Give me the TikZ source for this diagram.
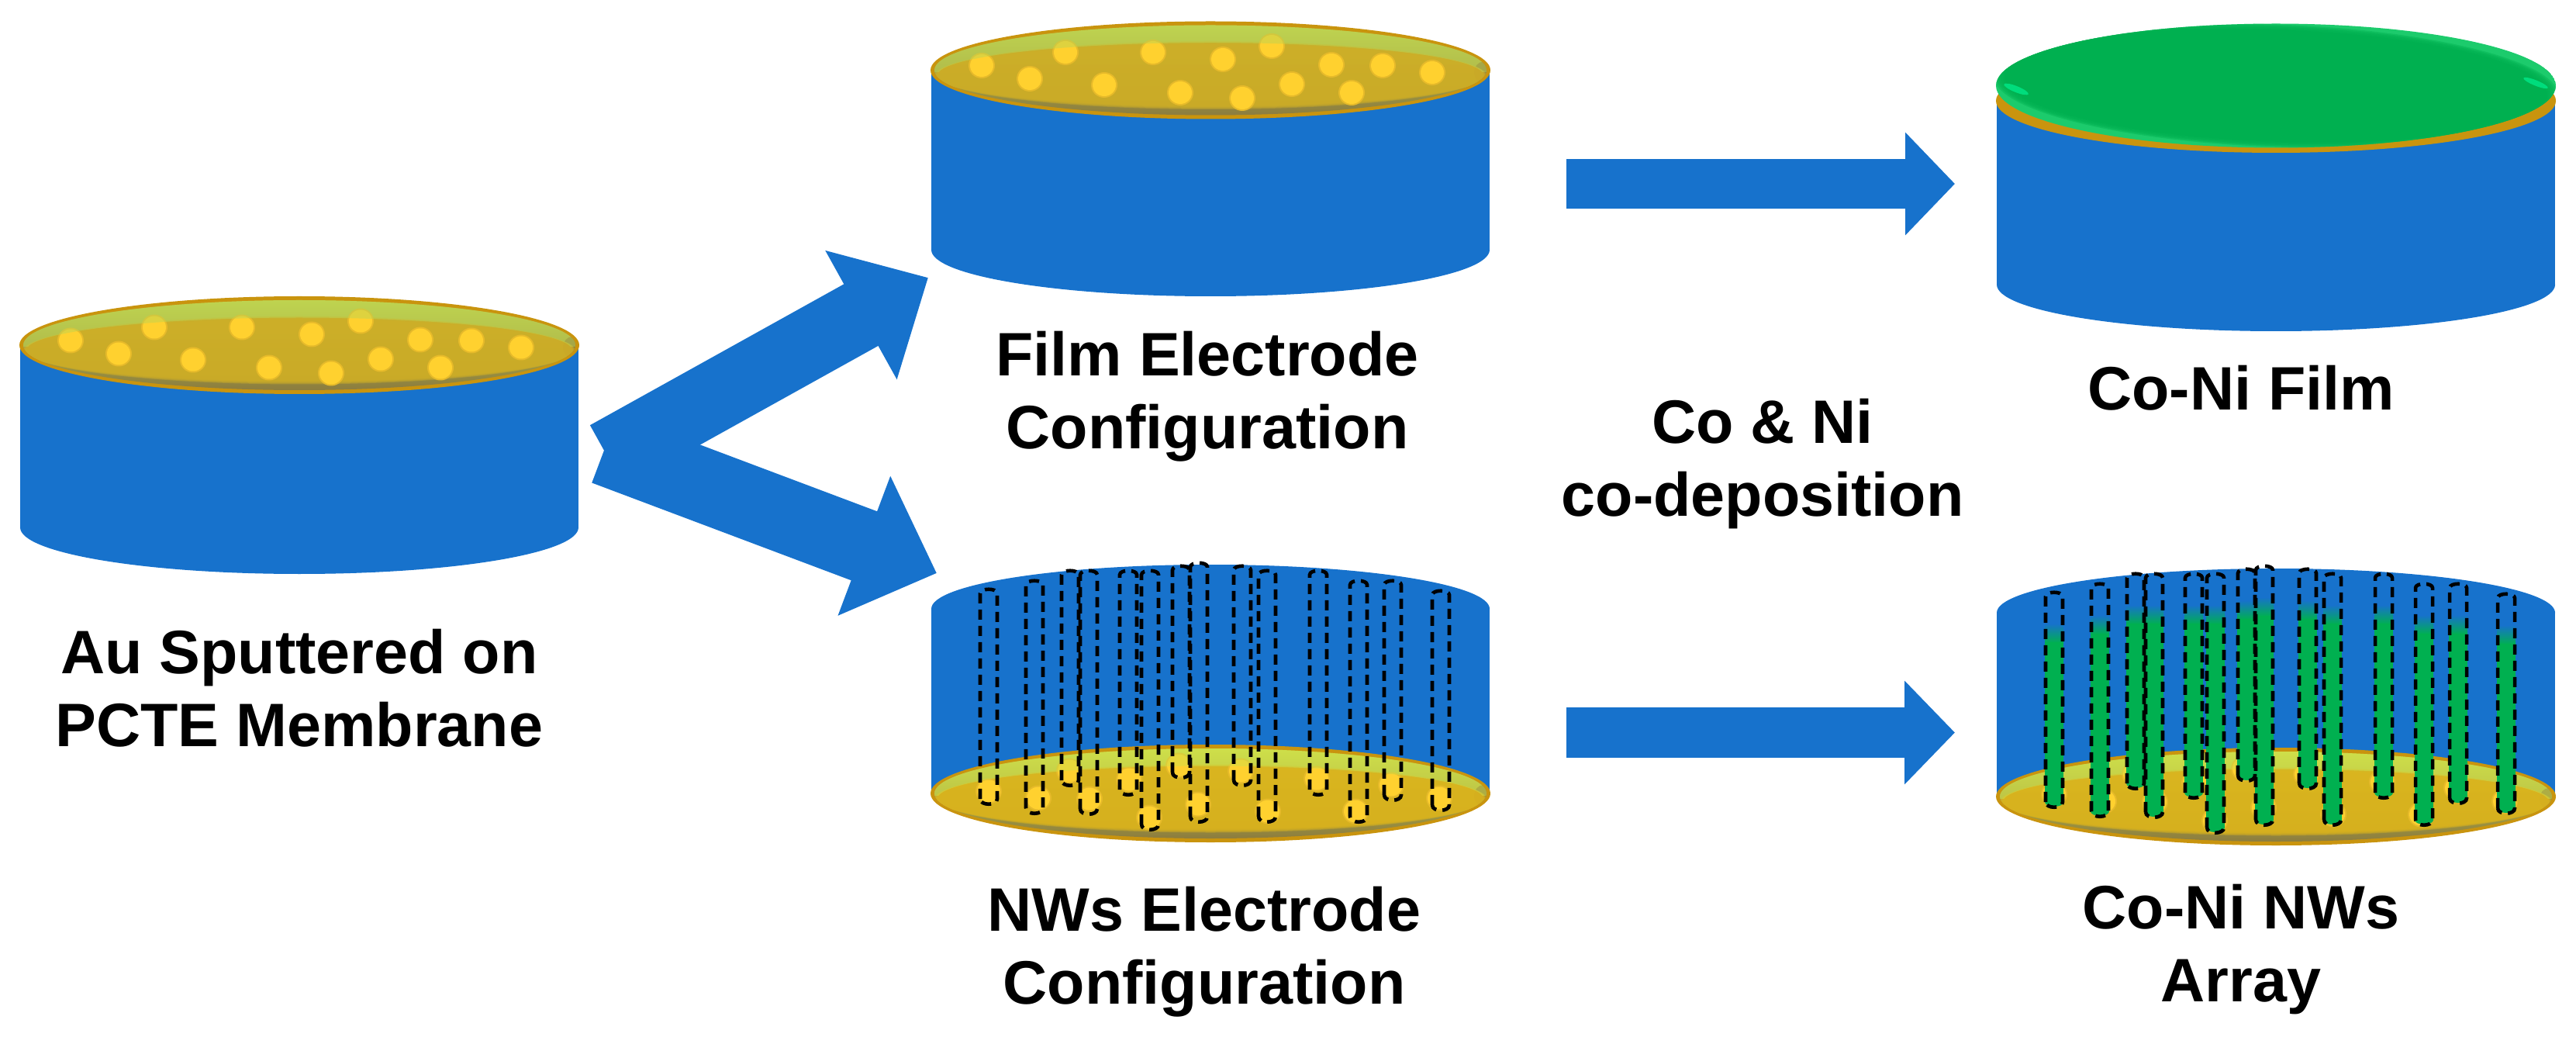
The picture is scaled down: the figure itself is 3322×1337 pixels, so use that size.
\documentclass[tikz,border=0pt]{standalone}
\usepackage{fontspec}
\setmainfont{Liberation Sans}
\usetikzlibrary{arrows.meta,positioning}

\definecolor{drumblue}{HTML}{1772CC}
\definecolor{rimgold}{HTML}{C9940E}
\definecolor{bandgold}{HTML}{8B7B3E}
\definecolor{olivegold}{HTML}{CFAE26}
\definecolor{brightgold}{HTML}{DCB41C}
\definecolor{olivelime}{HTML}{BFD450}
\definecolor{brightlime}{HTML}{CFE04A}
\definecolor{dotgold}{HTML}{FFD12F}
\definecolor{dotedge}{HTML}{E6BA2A}
\definecolor{coatgreen}{HTML}{00B050}
\definecolor{coatlight}{HTML}{1CCB6C}
\definecolor{coatspot}{HTML}{00E887}

\tikzset{
blockarrow/.style={drumblue,line width=#1},
caption/.style={font=\fontsize{22.5}{26.5}\selectfont\bfseries,align=center,text=black},
wiredash/.style={black,line width=0.046cm,dash pattern=on 0.13cm off 0.08cm}
}

% blue body: (x, top y, bottom y)
\newcommand{\drum}[3]{
\fill[drumblue] (#1-360,#2) rectangle (#1+360,#3);
\fill[drumblue] (#1,#2) ellipse [x radius=360,y radius=57];
\fill[drumblue] (#1,#3) ellipse [x radius=360,y radius=60];
}

% gold disc: (x, y, face colour, highlight colour)
\newcommand{\plate}[4]{
\fill[rimgold] (#1,#2) ellipse [x radius=361,y radius=63];
\begin{scope}
\clip (#1,#2) ellipse [x radius=356,y radius=58];
\shade[top color=#4,bottom color=bandgold,middle color=#4!50!bandgold] (#1-360,#2-60) rectangle (#1+360,#2+60);
\fill[bandgold] (#1+352,#2+3) ellipse [x radius=12,y radius=14];
\foreach \i in {0,...,4}
  \fill[#3,opacity=0.4] (#1,#2+6.5) ellipse [x radius=352+\i,y radius=44-\i];
\end{scope}
}

% dots on a disc: (x, y, sign)
\newcommand{\pores}[3]{
\foreach \dx/\dy in {-295/-6,-233/11,-187/-23,-137/19,-74/-23,-39/29,16/-14,41/36,79/-31,105/18,156/-7,182/29,222/-6,286/3} {
  \fill[dotedge] (#1+#3*\dx,#2+#3*\dy) ellipse [x radius=17,y radius=16.5];
  \fill[dotgold] (#1+#3*\dx,#2+#3*\dy) ellipse [x radius=15,y radius=14.5];
}
}

% sheen over the dots in the upper band: (x, y, colour)
\newcommand{\sheen}[3]{
\begin{scope}
\clip (#1-360,#2-70) rectangle (#1+360,#2+2);
\fill[#3,opacity=0.5,even odd rule] (#1,#2) ellipse [x radius=356,y radius=58]
  (#1,#2+6.5) ellipse [x radius=352,y radius=42];
\end{scope}
}

\newcommand{\wirelist}{-286/-263/12,-227/-274/24,-181/-287/-12,-157/-287/25,-106/-287/0,-78/-287/45,-38/-293/-22,-15/-297/35,41/-293/-12,73/-287/35,139/-287/0,191/-274/35,235/-274/7,297/-261/20}

% dashed pore outlines: (x, y)
\newcommand{\wires}[2]{
\foreach \wx/\wt/\wb in \wirelist
  \draw[wiredash] (#1+\wx-11,#2+\wb-5) -- (#1+\wx-11,#2+\wt+5)
    .. controls (#1+\wx-11,#2+\wt-2) and (#1+\wx+11,#2+\wt-2) .. (#1+\wx+11,#2+\wt+5)
    -- (#1+\wx+11,#2+\wb-5)
    .. controls (#1+\wx+11,#2+\wb+4) and (#1+\wx-11,#2+\wb+4) .. cycle;
}

% green fill of the pores: (x, y)
\newcommand{\greenfill}[2]{
\foreach \wx/\wt/\wb in \wirelist {
  \shade[top color=drumblue,bottom color=coatgreen] (#1+\wx-12,#2+\wt+40) rectangle (#1+\wx+12,#2+\wt+65);
  \fill[coatgreen] (#1+\wx-12,#2+\wt+64) rectangle (#1+\wx+12,#2+\wb-5);
  \fill[coatgreen] (#1+\wx,#2+\wb-5) ellipse [x radius=12,y radius=6];
}
}

\begin{document}
\begin{tikzpicture}[%
x=0.01cm,
y=-0.01cm,
on grid
]
\useasboundingbox (0,0) rectangle (3322,1337);

\coordinate (au) at (386,445);
\coordinate (film) at (1561,90.5);
\coordinate (nws) at (1561,1023);
\coordinate (coni) at (2935,110.5);
\coordinate (coninws) at (2935,1027);

% left drum
\drum{386}{445}{680}
\plate{386}{445}{olivegold}{olivelime}
\pores{386}{445}{1}
\sheen{386}{445}{olivelime}

% film electrode
\drum{1561}{90.5}{322}
\plate{1561}{90.5}{olivegold}{olivelime}
\pores{1561}{90.5}{1}
\sheen{1561}{90.5}{olivelime}

% nanowire electrode
\drum{1561}{785}{1023}
\plate{1561}{1023}{brightgold}{brightlime}
\pores{1561}{1023}{-1}
\sheen{1561}{1023}{brightlime}
\wires{1561}{1023}

% Co-Ni film
\drum{2935}{130}{367}
\fill[rimgold] (2935,130) ellipse [x radius=361,y radius=67];
\begin{scope}
\clip (coni) ellipse [x radius=361,y radius=80];
\fill[coatlight] (coni) ellipse [x radius=361,y radius=80];
\foreach \i in {0,...,5}
  \fill[coatgreen,opacity=0.4,rotate around={-2:(coni)}] (coni) ellipse [x radius=364-3*\i,y radius=79-1.5*\i];
\end{scope}
\fill[coatspot,opacity=0.8,rotate around={-22:(2600,115)}] (2600,115) ellipse [x radius=17,y radius=4];
\fill[coatspot,opacity=0.8,rotate around={-22:(3270,107)}] (3270,107) ellipse [x radius=17,y radius=3.5];

% Co-Ni nanowires
\drum{2935}{790}{1027}
\plate{2935}{1027}{brightgold}{brightlime}
\pores{2935}{1027}{-1}
\sheen{2935}{1027}{brightlime}
\greenfill{2935}{1027}
\wires{2935}{1027}

% arrows
\coordinate (forkup) at (783,588);
\coordinate (forkdown) at (780,578);
\coordinate (filmin) at (1197,358);
\coordinate (nwsin) at (1208,739);
\coordinate (filmout) at (2020,237);
\coordinate (conin) at (2521,237);
\coordinate (nwsout) at (2020,944.5);
\coordinate (coninwsin) at (2521,944.5);

\draw[blockarrow=0.91cm,-{Triangle[length=0.99cm,width=1.84cm]}] (forkup) -- (filmin);
\draw[blockarrow=0.95cm,-{Triangle[length=1.0cm,width=1.86cm]}] (forkdown) -- (nwsin);
\draw[blockarrow=0.63cm,-{Triangle[length=0.64cm,width=1.29cm]}] (filmout) -- (conin);
\draw[blockarrow=0.65cm,-{Triangle[length=0.65cm,width=1.30cm]}] (nwsout) -- (coninwsin);

% captions
\node[caption] (autext) [below=4.42cm of au,anchor=center] {Au Sputtered on\\PCTE Membrane};
\node[caption] (filmtext) [below=4.205cm of film,anchor=center,xshift=-0.04cm] {Film Electrode\\Configuration};
\node[caption] (nwstext) [below=2.04cm of nws,anchor=center,xshift=-0.08cm] {NWs Electrode\\Configuration};
\node[caption] (deptext) at (2273,598) {Co \& Ni\\co-deposition};
\node[caption] (conitext) [below=3.895cm of coni,anchor=center,xshift=-0.45cm] {Co-Ni Film};
\node[caption] (coninwstext) [below=1.97cm of coninws,anchor=center,xshift=-0.45cm] {Co-Ni NWs\\Array};
\end{tikzpicture}
\end{document}
